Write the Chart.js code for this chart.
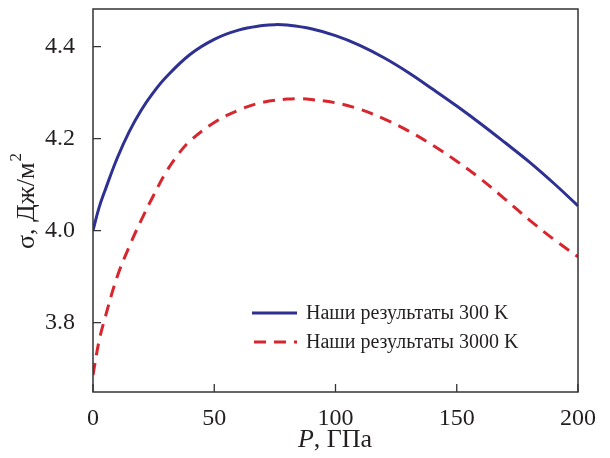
<!DOCTYPE html>
<html><head><meta charset="utf-8">
<script src="https://cdn.jsdelivr.net/npm/chart.js@4"></script>
<style>html,body{margin:0;padding:0;background:#fff}#wrap{width:610px;height:458px}</style>
</head><body><div id="wrap"><canvas id="c" width="610" height="458"></canvas></div>
<script>
const pBlue = [0, 2.5, 5, 10, 15, 20, 25, 30, 40, 50, 60, 70, 75, 80, 90, 100, 110, 120, 130, 140, 150, 160, 170, 180, 190, 200];
const sigma300 = [4.0, 4.050, 4.088, 4.158, 4.216, 4.263, 4.301, 4.333, 4.383, 4.416, 4.436, 4.446, 4.448, 4.447, 4.439, 4.424, 4.403, 4.376, 4.344, 4.308, 4.271, 4.232, 4.191, 4.149, 4.103, 4.054];
const pRed = [0, 2.5, 5, 10, 15, 20, 25, 30, 35, 40, 50, 60, 70, 80, 85, 90, 100, 110, 120, 130, 140, 150, 160, 170, 180, 190, 200];
const sigma3000 = [3.686, 3.760, 3.811, 3.900, 3.966, 4.024, 4.077, 4.126, 4.165, 4.195, 4.235, 4.262, 4.279, 4.286, 4.287, 4.285, 4.278, 4.264, 4.243, 4.217, 4.186, 4.151, 4.112, 4.068, 4.023, 3.981, 3.943];
const seriesLabels = ['Наши результаты 300 K', 'Наши результаты 3000 K'];
const xTicks = [0, 50, 100, 150, 200];
const yTicks = [3.8, 4.0, 4.2, 4.4];

const FONT = '"Liberation Serif", "Times New Roman", serif';
const INK = '#231f20';

const frame = {
  id: 'frame',
  afterDraw(chart) {
    const ctx = chart.ctx, a = chart.chartArea;
    const xs = chart.scales.x, ys = chart.scales.y;
    ctx.save();
    ctx.strokeStyle = '#333';
    ctx.lineWidth = 1.5;
    ctx.strokeRect(a.left, a.top, a.right - a.left, a.bottom - a.top);
    ctx.lineWidth = 1.3;
    ctx.beginPath();
    xTicks.forEach(v => { const x = xs.getPixelForValue(v); ctx.moveTo(x, a.bottom); ctx.lineTo(x, a.bottom - 8); });
    yTicks.forEach(v => { const y = ys.getPixelForValue(v); ctx.moveTo(a.left, y); ctx.lineTo(a.left + 8, y); });
    ctx.stroke();
    // x axis title
    ctx.fillStyle = INK;
    ctx.textBaseline = 'middle';
    ctx.textAlign = 'left';
    ctx.font = 'italic 26px ' + FONT;
    const xt1 = 'P', xt2 = ', ГПа';
    const w1 = ctx.measureText(xt1).width;
    ctx.font = '26px ' + FONT;
    const w2 = ctx.measureText(xt2).width;
    const sx = 335 - (w1 + w2) / 2;
    ctx.font = 'italic 26px ' + FONT;
    ctx.fillText(xt1, sx, 440);
    ctx.font = '26px ' + FONT;
    ctx.fillText(xt2, sx + w1, 440);
    // y axis title with superscript
    const yt = 'σ, Дж/м';
    ctx.font = '26px ' + FONT;
    const wy = ctx.measureText(yt).width;
    ctx.font = '17px ' + FONT;
    const ws = ctx.measureText('2').width;
    ctx.translate(27, 201);
    ctx.rotate(-Math.PI / 2);
    const st = -(wy + ws + 1) / 2;
    ctx.font = '26px ' + FONT;
    ctx.fillText(yt, st, 0);
    ctx.font = '17px ' + FONT;
    ctx.fillText('2', st + wy + 1, -10);
    ctx.restore();
    // legend
    ctx.save();
    ctx.font = '20px ' + FONT;
    ctx.textBaseline = 'middle';
    ctx.textAlign = 'left';
    chart.data.datasets.forEach((ds, i) => {
      const y = 313 + i * 29;
      ctx.strokeStyle = ds.borderColor;
      ctx.lineWidth = ds.borderWidth;
      ctx.setLineDash(ds.borderDash || []);
      ctx.beginPath();
      ctx.moveTo(i === 0 ? 252 : 254, y);
      ctx.lineTo(297, y);
      ctx.stroke();
      ctx.setLineDash([]);
      ctx.fillStyle = INK;
      ctx.fillText(ds.label, 306, y + 1);
    });
    ctx.restore();
  }
};

new Chart(document.getElementById('c'), {
  type: 'line',
  data: {
    datasets: [
      { label: seriesLabels[0], data: pBlue.map((p, i) => ({x: p, y: sigma300[i]})),
        borderColor: '#2e3192', borderWidth: 3, pointRadius: 0, tension: 0.4, fill: false },
      { label: seriesLabels[1], data: pRed.map((p, i) => ({x: p, y: sigma3000[i]})),
        borderColor: '#d7262e', borderWidth: 3, borderDash: [12, 8], pointRadius: 0, tension: 0.4, fill: false }
    ]
  },
  options: {
    responsive: false, animation: false, devicePixelRatio: 1,
    layout: { padding: { left: 0, right: 32, top: 9, bottom: 0 } },
    plugins: { legend: { display: false }, tooltip: { enabled: false } },
    scales: {
      x: { type: 'linear', min: 0, max: 200,
        afterBuildTicks: s => { s.ticks = xTicks.map(v => ({value: v})); },
        afterFit: s => { s.height = 66; s.paddingLeft = 0; s.paddingRight = 0; },
        grid: { display: false }, border: { display: false },
        ticks: { color: INK, font: { family: FONT, size: 24 }, padding: 4, maxRotation: 0 } },
      y: { type: 'linear', min: 3.649, max: 4.482,
        afterBuildTicks: s => { s.ticks = yTicks.map(v => ({value: v})); },
        afterFit: s => { s.width = 93; s.paddingTop = 0; s.paddingBottom = 0; },
        grid: { display: false }, border: { display: false },
        ticks: { color: INK, font: { family: FONT, size: 24 }, padding: 10, callback: v => v.toFixed(1) } }
    }
  },
  plugins: [frame]
});
</script></body></html>
